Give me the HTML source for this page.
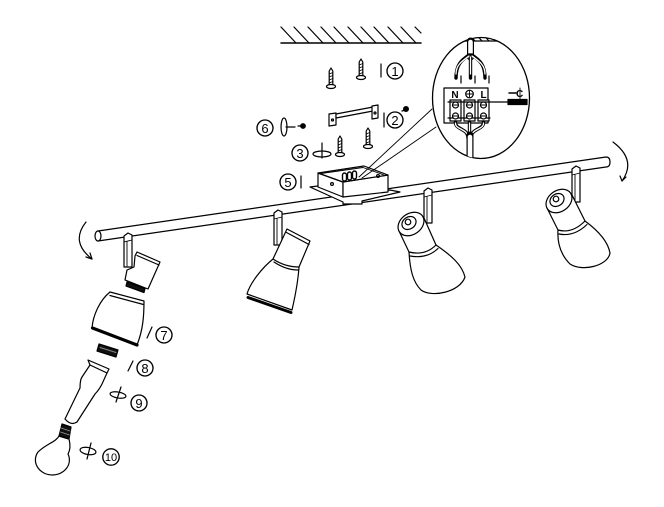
<!DOCTYPE html>
<html><head><meta charset="utf-8"><style>html,body{margin:0;padding:0;background:#fff;width:664px;height:507px;overflow:hidden}svg{display:block}text{font-family:"Liberation Sans",sans-serif;stroke:none;fill:#000}</style></head><body>
<svg width="664" height="507" viewBox="0 0 664 507" xmlns="http://www.w3.org/2000/svg" fill="none" stroke="#000" stroke-width="1.2" stroke-linejoin="round" stroke-linecap="round">
<defs>
<clipPath id="cc"><ellipse cx="481" cy="98" rx="48.5" ry="60.5"/></clipPath>
<g id="scr"><path d="M-1.8,3 L0,0 L1.8,3 L1.8,17 L-1.8,17 Z" fill="#fff"/><path d="M-1.8,6 L1.8,4.5 M-1.8,9 L1.8,7.5 M-1.8,12 L1.8,10.5 M-1.8,15 L1.8,13.5" stroke-width="0.8"/><ellipse cx="0" cy="18.5" rx="4.5" ry="2" fill="#fff"/></g>
</defs>

<!-- ceiling -->
<line x1="281" y1="43" x2="421" y2="43" stroke-width="1.5"/>
<path d="M281,27 L296,43 M294,27 L309,43 M308,27 L323,43 M321,27 L336,43 M334,27 L349,43 M348,27 L363,43 M361,27 L376,43 M374,27 L389,43 M388,27 L403,43 M401,27 L416,43 M415,27 L421,33"/>

<!-- screws 1 -->
<use href="#scr" transform="translate(331,68)"/>
<use href="#scr" transform="translate(361,59)"/>
<line x1="381" y1="64" x2="381" y2="77"/>
<g stroke-width="1.35">
<circle cx="395" cy="71" r="8"/>
<circle cx="395" cy="120" r="8"/>
<circle cx="265" cy="128" r="8"/>
<circle cx="300" cy="153" r="8"/>
<circle cx="288" cy="182" r="8"/>
<circle cx="507" cy="120" r="8"/>
<circle cx="164" cy="335" r="8"/>
<circle cx="145" cy="368" r="8"/>
<circle cx="139" cy="403" r="8"/>
<circle cx="111" cy="457" r="8.2"/>
</g>
<g font-size="13" text-anchor="middle">
<text x="395" y="75.8">1</text>
<text x="395" y="124.8">2</text>
<text x="265" y="132.8">6</text>
<text x="300" y="157.8">3</text>
<text x="288" y="186.8">5</text>
<text x="507" y="124.8">4</text>
<text x="164" y="339.8">7</text>
<text x="145" y="372.8">8</text>
<text x="139" y="407.8">9</text>
<text x="111" y="461.2" font-size="11">10</text>
</g>

<!-- bracket 2 -->
<path d="M329,114 L336,113 L336,125 L329,126 Z" fill="#fff"/>
<path d="M336,114 L373,107 L373,111 L336,118 Z" fill="#fff"/>
<path d="M372,106 L378,105 L378,118 L372,119 Z" fill="#fff"/>
<circle cx="332.5" cy="120" r="1"/><circle cx="375" cy="113" r="1"/>
<line x1="384" y1="113" x2="384" y2="127"/>
<circle cx="406" cy="109" r="2.4" fill="#000"/><line x1="402" y1="111" x2="405" y2="110"/>

<!-- 6 -->
<ellipse cx="284" cy="127" rx="3" ry="9"/>
<line x1="286" y1="127" x2="295" y2="127"/>
<path d="M298,126 L301,126"/><circle cx="303" cy="126" r="2.3" fill="#000"/>

<!-- screws lower -->
<use href="#scr" transform="translate(340,136)"/>
<use href="#scr" transform="translate(368,128)"/>

<!-- 3 -->
<line x1="322" y1="143" x2="322" y2="158"/>
<ellipse cx="322" cy="154" rx="9" ry="3"/>

<!-- 5 -->
<line x1="301" y1="176" x2="301" y2="188"/>

<!-- arcs -->
<path d="M86,222 Q70,242 92,259"/><path d="M86,257 L92,259 L90,253"/>
<path d="M613,142 Q637,160 622,181"/><path d="M620,176 L622,181 L626,177"/>

<!-- bar -->
<path d="M98,231 L606,157 Q610,157 610,162 Q610,167 606,167 L98,241 Z" fill="#fff"/>
<ellipse cx="98" cy="236" rx="3" ry="5" fill="#fff"/>

<!-- junction box -->
<path d="M310,187 L318,186 L343,196 L390,190 L400,192 L362,201 L362,204 L343,204 L343,202 Z" fill="#fff"/>
<path d="M318,173 L343,182 L343,197 L318,187 Z" fill="#fff"/>
<path d="M343,182 L388,175 L388,192 L343,197 Z" fill="#fff"/>
<path d="M318,173 L364,166 L388,175 L343,182 Z" fill="#fff"/>
<path d="M321,173.5 L363,167.5 L384,175" stroke-width="0.9"/>
<circle cx="332" cy="184" r="1.4"/><circle cx="378" cy="176" r="1.4"/>
<rect x="342.5" y="173" width="4" height="8" rx="2" fill="#fff" stroke-width="1.4"/>
<rect x="347.5" y="172" width="4" height="8" rx="2" fill="#fff" stroke-width="1.4"/>
<rect x="352.5" y="171" width="4" height="8" rx="2" fill="#fff" stroke-width="1.4"/>
<line x1="359" y1="177" x2="432" y2="109" stroke-width="0.9"/>
<line x1="362" y1="178" x2="436" y2="127" stroke-width="0.9"/>

<!-- detail circle -->
<ellipse cx="481" cy="98" rx="48.5" ry="60.5" fill="#fff" stroke-width="1.3"/>
<g clip-path="url(#cc)">
<line x1="455" y1="41" x2="512" y2="41"/>
<path d="M452,31 L461,41 M459,31 L468,41 M466,31 L475,41 M473,31 L482,41 M480,31 L489,41 M487,31 L496,41 M494,31 L503,41 M501,31 L510,41"/>
</g>
<path d="M470.5,41 L470.5,57" stroke-width="7"/><path d="M470.5,42 L470.5,57" stroke="#fff" stroke-width="4.6"/>
<g stroke-width="3.4"><path d="M469,55 C462,60 456,64 456,78"/><path d="M470.5,55 L470.5,78"/><path d="M472,55 C479,60 485,64 485,78"/></g>
<g stroke="#fff" stroke-width="1.3"><path d="M469,56 C462,61 456,65 456,74"/><path d="M470.5,57 L470.5,74"/><path d="M472,56 C479,61 485,65 485,74"/></g>
<path d="M461,76 L461,83 M475,76 L475,83 M489,76 L489,83"/>
<rect x="444" y="88" width="44" height="35" fill="#fff"/>
<text x="455" y="98" font-size="10" font-weight="bold" text-anchor="middle">N</text>
<circle cx="469.5" cy="94" r="3.8"/><path d="M469.5,91 L469.5,97 M466.5,94 L472.5,94" stroke-width="0.9"/>
<text x="483.5" y="98" font-size="10" font-weight="bold" text-anchor="middle">L</text>
<rect x="450" y="100" width="11" height="21" fill="#fff"/>
<rect x="464" y="100" width="11" height="21" fill="#fff"/>
<rect x="478" y="100" width="11" height="21" fill="#fff"/>
<line x1="448" y1="102" x2="508" y2="102"/>
<line x1="448" y1="118" x2="490" y2="118"/>
<g fill="#fff"><circle cx="455.5" cy="105" r="3"/><circle cx="469.5" cy="105" r="3"/><circle cx="483.5" cy="105" r="3"/><circle cx="455.5" cy="116" r="3"/><circle cx="469.5" cy="116" r="3"/><circle cx="483.5" cy="116" r="3"/></g>
<path d="M453,105 L458,105 M467,105 L472,105 M481,105 L486,105 M453,116 L458,116 M467,116 L472,116 M481,116 L486,116" stroke-width="0.9"/>
<rect x="508" y="99.5" width="19" height="5" fill="#000"/>
<path d="M509,93 L516,93" stroke-width="1.4"/>
<text x="516" y="97" font-size="10" font-weight="bold">C</text>
<line x1="520" y1="88" x2="520" y2="99" stroke-width="0.9"/>
<g stroke-width="3.4"><path d="M455.5,122 C455,130 468,128 468,138"/><path d="M469.5,122 L469.5,138"/><path d="M483.5,122 C484,130 471,128 471,138"/></g>
<g stroke="#fff" stroke-width="1.3"><path d="M455.5,123 C455,130 468,128 468,138"/><path d="M469.5,123 L469.5,138"/><path d="M483.5,123 C484,130 471,128 471,138"/></g>
<g clip-path="url(#cc)"><path d="M470,135 L470,162" stroke-width="7"/><path d="M470,137 L470,162" stroke="#fff" stroke-width="4.6"/></g>

<!-- stems -->
<g fill="#fff">
<path d="M124,236 L128,233 L132,235 L132,267 L124,267 Z"/>
<path d="M274,213 L278,210 L282,212 L282,245 L274,245 Z"/>
<path d="M424,191 L428,188 L432,190 L432,223 L424,223 Z"/>
<path d="M572,169 L576,166 L580,168 L580,202 L572,202 Z"/>
</g>
<path d="M124,242 L132,240 M127,242 L127,266 M274,219 L282,217 M277,219 L277,244 M424,197 L432,195 M427,197 L427,222 M572,175 L580,173 M575,175 L575,201" stroke-width="0.9"/>

<!-- spot 1 exploded -->
<path d="M127,282 L145,288.5 L144,292.5 L126,286 Z" fill="#111"/>
<path d="M137,252 L160,262 L148,289 L125,280 L127,270 L134,267 L135,256 Z" fill="#fff"/>
<path d="M137,255.5 L159,265"/>
<path d="M110,292 L144,301 C144,316 143,330 137,345 L92,328 C93,315 100,300 110,292 Z" fill="#fff"/>
<path d="M110,295.5 L143.5,304.5"/>
<path d="M92.5,328 L137,345" stroke-width="3.2"/>
<line x1="147" y1="338" x2="152" y2="327"/>
<path d="M99,344 L118,350 L116,357 L97,351 Z" fill="#111"/>
<path d="M100,347.5 L116,352.5" stroke="#888" stroke-width="1"/>
<line x1="128" y1="371" x2="133" y2="361"/>
<path d="M88,360 L109,369 L107,373 L102,384 Q99,390 95,394 L77,422 Q71,426 65,419 L80,388 Q80,380 82,377 L90,365 Z" fill="#fff"/>
<path d="M90,365 L107,373"/>
<ellipse cx="118" cy="395" rx="8" ry="3" transform="rotate(10 118 395)"/>
<line x1="121" y1="387" x2="116" y2="402"/>
<path d="M59,436 C56,442 46,444 38,452 A17,15 0 1 0 68,454 C71,449 70,443 69,439 Z" fill="#fff"/>
<path d="M62,424 L71,427 L69,439 L59,436 Z" fill="#111"/>
<path d="M61,428 L70,431 M60.5,432 L69.5,435" stroke="#999" stroke-width="0.9"/>
<ellipse cx="88" cy="451" rx="8" ry="3.5" transform="rotate(10 88 451)"/>
<line x1="91" y1="443" x2="87" y2="459"/>

<!-- spot 2 -->
<path d="M287,229 L310,241 L299,267 C298,282 295,297 292,310 L247,294 C250,283 262,268 273,259 Z" fill="#fff"/>
<path d="M286.5,232.5 L309,244.5"/>
<path d="M273,259 Q285,267 299,267"/>
<path d="M274,262 Q286,270 298,270"/>
<path d="M248,297.5 L291,312.5" stroke-width="3"/>

<!-- spot 3 -->
<path d="M399,231 L409,252 L436,245 L424,218 Z" fill="#fff" stroke="none"/>
<path d="M399,231 L409,252 M424,218 L436,245"/>
<path d="M409,252 C410,270 413,282 421,290 C432,298 460,292 465,277 C462,265 452,256 436,245 Q425,256 409,252 Z" fill="#fff"/>
<path d="M410,256 Q427,259 438,248.5"/>
<ellipse cx="411" cy="224" rx="14" ry="10.5" transform="rotate(-35 411 224)" fill="#fff"/>
<ellipse cx="409" cy="223" rx="7.5" ry="6" transform="rotate(-35 409 223)"/>
<circle cx="408" cy="222" r="2.8"/>

<!-- spot 4 -->
<path d="M547,208 L558,230 L585,221 L572,195 Z" fill="#fff" stroke="none"/>
<path d="M547,208 L558,230 M572,195 L585,221"/>
<path d="M558,230 C557,245 562,256 570,264 C582,272 608,266 610,253 C608,242 600,232 585,221 Q572,234 558,230 Z" fill="#fff"/>
<path d="M559,234 Q574,237 587,224.5"/>
<ellipse cx="559" cy="201" rx="14" ry="10.5" transform="rotate(-35 559 201)" fill="#fff"/>
<ellipse cx="557" cy="200" rx="7.5" ry="6" transform="rotate(-35 557 200)"/>
<circle cx="556" cy="199" r="2.8"/>
</svg>
</body></html>
